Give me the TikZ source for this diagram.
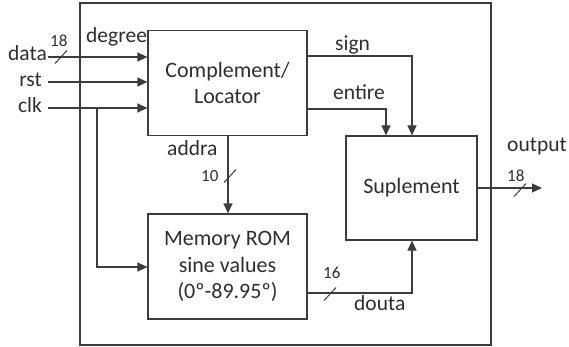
\documentclass[tikz,border=0pt]{standalone}
\usepackage{fontspec}
\setmainfont{Carlito}
\usetikzlibrary{arrows.meta}
\definecolor{ink}{HTML}{3C3C3C}
\definecolor{txt}{HTML}{2E2E2E}
\tikzset{
  block/.style={draw=ink, line width=1.2pt, fill=white, align=center,
    text=txt, font=\fontsize{22}{26.5}\selectfont, inner sep=0pt},
  wire/.style={draw=ink, line width=1.2pt},
  sig/.style={wire, -{Triangle[length=10pt,width=9pt]}},
  lbl/.style={text=txt, font=\fontsize{21.5}{25}\selectfont, inner sep=0pt},
  buslbl/.style={text=txt, font=\fontsize{17}{20}\selectfont, inner sep=0pt},
  busmark/.style={draw=ink, line width=1pt}
}
\begin{document}
\begin{tikzpicture}[x=1pt, y=-1pt]
\useasboundingbox (0,0) rectangle (569,347);

% enclosing module
\draw[wire] (80,3) rectangle (491,345);

% functional blocks
\node[block, minimum width=159pt, minimum height=105pt] (comp) at (227.5,83) {Complement/\\Locator};
\node[block, minimum width=159pt, minimum height=105pt] (mem) at (227.5,266.5) {Memory ROM\\sine values\\(0º-89.95º)};
\node[block, minimum width=131pt, minimum height=104pt] (sup) at (411.5,188) {Suplement};

% inputs
\coordinate (dataIn) at (48,57);
\coordinate (rstIn) at (48,82);
\coordinate (clkIn) at (48,108);
\node[lbl, anchor=base east] (dataL) at (47,61) {data};
\node[lbl, anchor=base east] (rstL) at (42,87) {rst};
\node[lbl, anchor=base east] (clkL) at (42,113) {clk};
\draw[sig] (dataIn) -- (dataIn -| comp.west);
\draw[sig] (rstIn) -- (rstIn -| comp.west);
\draw[sig] (clkIn) -- (clkIn -| comp.west);
\node[buslbl, anchor=base west] (dataW) at (50,47) {18};
\draw[busmark] (61,57) ++(-6,6.5) -- ++(12,-13);
\node[lbl, anchor=base west] (degL) at (86,43) {degree};

% clock branch to the ROM
\coordinate (clkTap) at (97,108);
\coordinate (clkDn) at (97,267);
\draw[sig] (clkTap) -- (clkDn) -- (clkDn -| mem.west);

% address bus
\coordinate (addrTop) at (228,135);
\draw[sig] (comp.south -| addrTop) -- (mem.north -| addrTop);
\node[lbl, anchor=base west] (addraL) at (167,156) {addra};
\node[buslbl, anchor=base west] (addrW) at (201,182) {10};
\draw[busmark] (230,176) ++(-6,6.5) -- ++(12,-13);

% sign and entire flags
\coordinate (signX) at (412,56);
\coordinate (entX) at (386,109);
\draw[sig] (signX -| comp.east) -- (signX) -- (signX |- sup.north);
\draw[sig] (entX -| comp.east) -- (entX) -- (entX |- sup.north);
\node[lbl, anchor=base west] (signL) at (335,51) {sign};
\node[lbl, anchor=base west] (entL) at (333,100) {entire};

% ROM data output
\coordinate (doutX) at (412,293);
\draw[sig] (doutX -| mem.east) -- (doutX) -- (doutX |- sup.south);
\node[buslbl, anchor=base west] (doutW) at (323,278) {16};
\draw[busmark] (330,294) ++(-6,6.5) -- ++(12,-13);
\node[lbl, anchor=base west] (doutL) at (354,310) {douta};

% module output
\coordinate (outEnd) at (542,188);
\draw[sig] (sup.east) -- (outEnd);
\node[lbl, anchor=base west] (outL) at (507,152) {output};
\node[buslbl, anchor=base west] (outW) at (507,182) {18};
\draw[busmark] (520,190) ++(-6,6.5) -- ++(12,-13);
\end{tikzpicture}
\end{document}
